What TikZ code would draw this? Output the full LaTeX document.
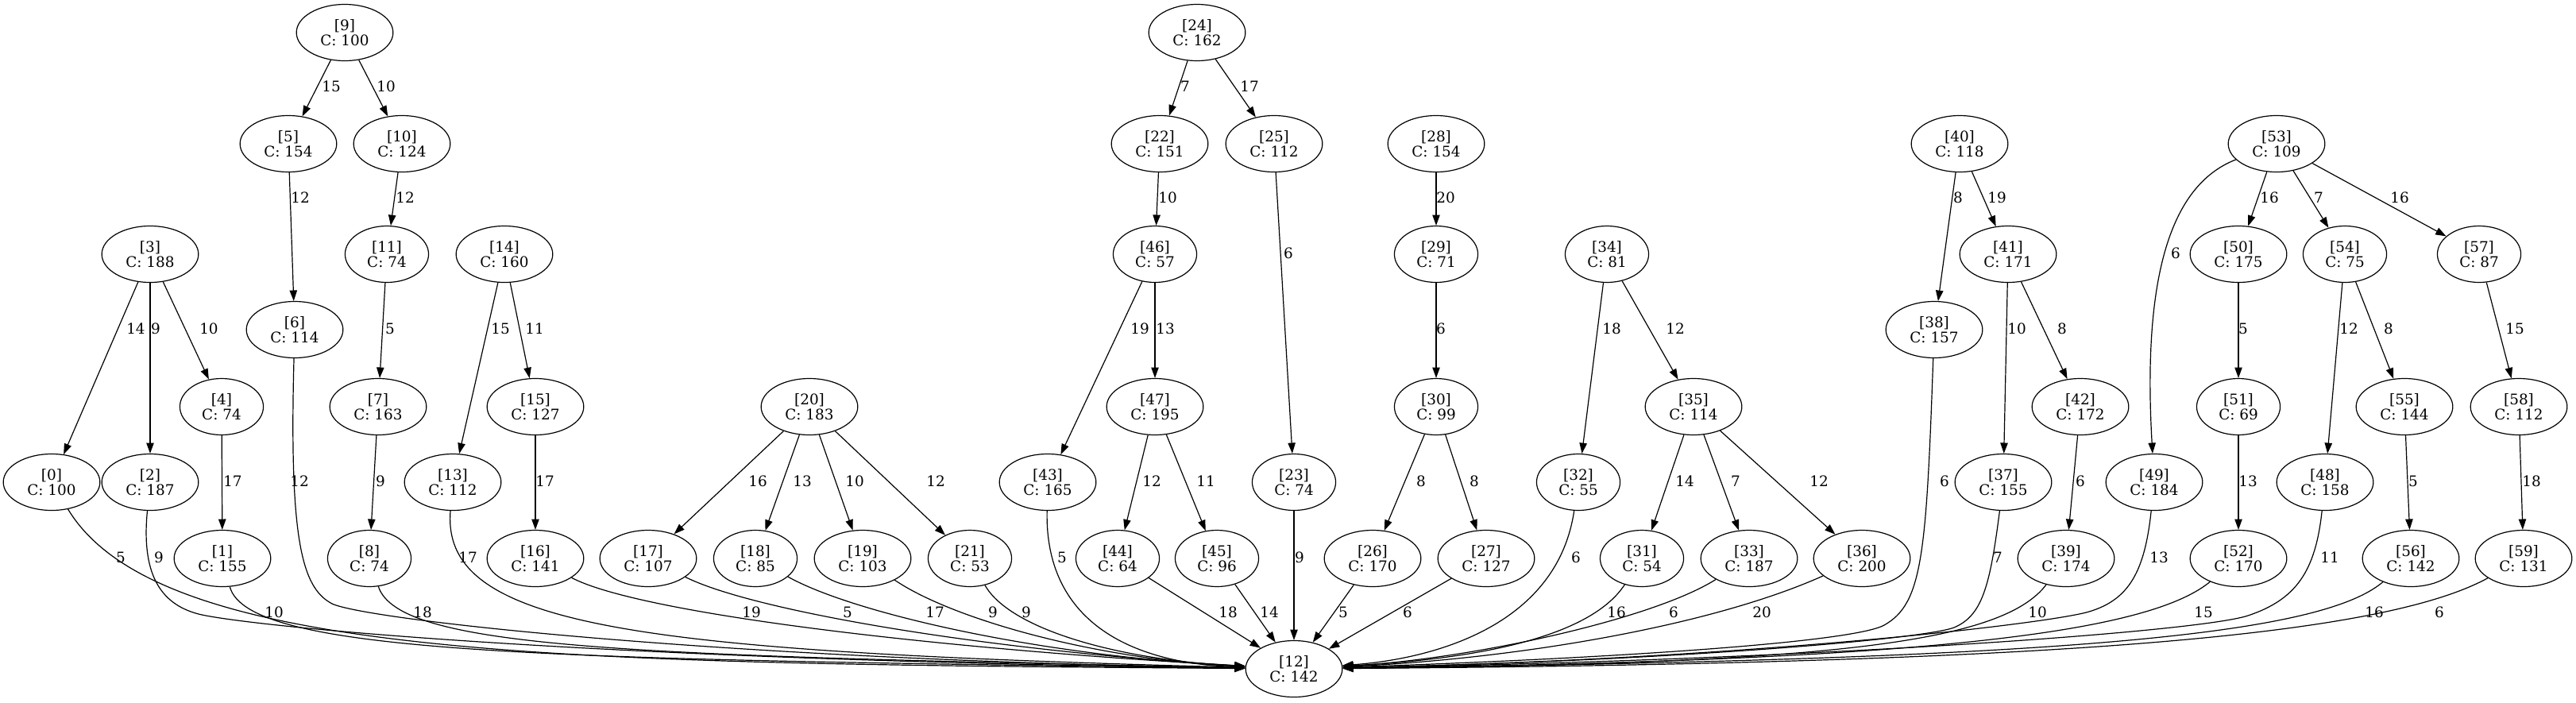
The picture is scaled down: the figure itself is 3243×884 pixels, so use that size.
\documentclass[tikz,border=0pt]{standalone}
\usepackage{fontspec}
\setmainfont{DejaVu Serif}
\usetikzlibrary{shapes.geometric,arrows.meta}

\tikzset{every picture/.style={line width=0.6pt}}
\tikzset{
  vertex/.style={draw, ellipse, align=center, inner xsep=6.2pt, inner ysep=1pt, minimum height=35.5pt, font=\fontsize{9.2}{9.5}\selectfont},
  link/.style={-{Triangle[length=6.7pt,width=4.7pt]}},
  lbl/.style={inner sep=0.5pt, font=\fontsize{9.2}{9.5}\selectfont}
}

\begin{document}
\begin{tikzpicture}[x=0.5pt,y=0.5pt,yscale=-1,xscale=1]
\useasboundingbox (0,0) rectangle (3243,884);

% Nodes
\node[vertex] (n9) at (434,41) {[9]\\C: 100};
\node[vertex] (n24) at (1507,41) {[24]\\C: 162};
\node[vertex] (n5) at (363,181) {[5]\\C: 154};
\node[vertex] (n10) at (506,181) {[10]\\C: 124};
\node[vertex] (n22) at (1460,181) {[22]\\C: 151};
\node[vertex] (n25) at (1604,181) {[25]\\C: 112};
\node[vertex] (n28) at (1808,181) {[28]\\C: 154};
\node[vertex] (n40) at (2467,181) {[40]\\C: 118};
\node[vertex] (n53) at (2866,181) {[53]\\C: 109};
\node[vertex] (n3) at (189,320) {[3]\\C: 188};
\node[vertex] (n11) at (487,320) {[11]\\C: 74};
\node[vertex] (n14) at (635,320) {[14]\\C: 160};
\node[vertex] (n46) at (1454,320) {[46]\\C: 57};
\node[vertex] (n29) at (1808,320) {[29]\\C: 71};
\node[vertex] (n34) at (2023,320) {[34]\\C: 81};
\node[vertex] (n41) at (2528,320) {[41]\\C: 171};
\node[vertex] (n50) at (2818,320) {[50]\\C: 175};
\node[vertex] (n54) at (2952,320) {[54]\\C: 75};
\node[vertex] (n57) at (3121,320) {[57]\\C: 87};
\node[vertex] (n6) at (371,415) {[6]\\C: 114};
\node[vertex] (n38) at (2435,415) {[38]\\C: 157};
\node[vertex] (n4) at (279,512) {[4]\\C: 74};
\node[vertex] (n7) at (476,512) {[7]\\C: 163};
\node[vertex] (n15) at (674,512) {[15]\\C: 127};
\node[vertex] (n20) at (1019,512) {[20]\\C: 183};
\node[vertex] (n47) at (1454,512) {[47]\\C: 195};
\node[vertex] (n30) at (1808,512) {[30]\\C: 99};
\node[vertex] (n35) at (2132,512) {[35]\\C: 114};
\node[vertex] (n42) at (2619,512) {[42]\\C: 172};
\node[vertex] (n51) at (2818,512) {[51]\\C: 69};
\node[vertex] (n55) at (3027,512) {[55]\\C: 144};
\node[vertex] (n58) at (3171,512) {[58]\\C: 112};
\node[vertex] (n0) at (65,607) {[0]\\C: 100};
\node[vertex] (n2) at (189,607) {[2]\\C: 187};
\node[vertex] (n13) at (570,607) {[13]\\C: 112};
\node[vertex] (n43) at (1319,607) {[43]\\C: 165};
\node[vertex] (n23) at (1629,607) {[23]\\C: 74};
\node[vertex] (n32) at (1987,607) {[32]\\C: 55};
\node[vertex] (n37) at (2522,607) {[37]\\C: 155};
\node[vertex] (n49) at (2712,607) {[49]\\C: 184};
\node[vertex] (n48) at (2927,607) {[48]\\C: 158};
\node[vertex] (n1) at (280,703) {[1]\\C: 155};
\node[vertex] (n8) at (465,703) {[8]\\C: 74};
\node[vertex] (n16) at (674,703) {[16]\\C: 141};
\node[vertex] (n17) at (816,703) {[17]\\C: 107};
\node[vertex] (n18) at (951,703) {[18]\\C: 85};
\node[vertex] (n19) at (1086,703) {[19]\\C: 103};
\node[vertex] (n21) at (1221,703) {[21]\\C: 53};
\node[vertex] (n44) at (1407,703) {[44]\\C: 64};
\node[vertex] (n45) at (1532,703) {[45]\\C: 96};
\node[vertex] (n26) at (1728,703) {[26]\\C: 170};
\node[vertex] (n27) at (1871,703) {[27]\\C: 127};
\node[vertex] (n31) at (2067,703) {[31]\\C: 54};
\node[vertex] (n33) at (2202,703) {[33]\\C: 187};
\node[vertex] (n36) at (2344,703) {[36]\\C: 200};
\node[vertex] (n39) at (2601,703) {[39]\\C: 174};
\node[vertex] (n52) at (2818,703) {[52]\\C: 170};
\node[vertex] (n56) at (3035,703) {[56]\\C: 142};
\node[vertex] (n59) at (3177,703) {[59]\\C: 131};
\node[vertex] (n12) at (1629,842) {[12]\\C: 142};

%Straight Lines
\draw[link] (n9) -- (n5); \node[lbl] (e9-5) at (417,109) {15};
\draw[link] (n9) -- (n10); \node[lbl] (e9-10) at (486,109) {10};
\draw[link] (n5) -- (n6); \node[lbl] (e5-6) at (378,249) {12};
\draw[link] (n10) -- (n11); \node[lbl] (e10-11) at (510,249) {12};
\draw[link] (n11) -- (n7); \node[lbl] (e11-7) at (491,414) {5};
\draw[link] (n7) -- (n8); \node[lbl] (e7-8) at (479,606) {9};
\draw[link] (n3) -- (n0); \node[lbl] (e3-0) at (171,414) {14};
\draw[link] (n3) -- (n2); \node[lbl] (e3-2) at (196,414) {9};
\draw[link] (n3) -- (n4); \node[lbl] (e3-4) at (263,414) {10};
\draw[link] (n4) -- (n1); \node[lbl] (e4-1) at (293,606) {17};
\draw[link] (n14) -- (n13); \node[lbl] (e14-13) at (630,414) {15};
\draw[link] (n14) -- (n15); \node[lbl] (e14-15) at (673,414) {11};
\draw[link] (n15) -- (n16); \node[lbl] (e15-16) at (686,606) {17};
\draw[link] (n20) -- (n17); \node[lbl] (e20-17) at (954,606) {16};
\draw[link] (n20) -- (n18); \node[lbl] (e20-18) at (1010,606) {13};
\draw[link] (n20) -- (n19); \node[lbl] (e20-19) at (1076,606) {10};
\draw[link] (n20) -- (n21); \node[lbl] (e20-21) at (1178,606) {12};
\draw[link] (n24) -- (n22); \node[lbl] (e24-22) at (1492,109) {7};
\draw[link] (n24) -- (n25); \node[lbl] (e24-25) at (1573,109) {17};
\draw[link] (n22) -- (n46); \node[lbl] (e22-46) at (1470,249) {10};
\draw[link] (n46) -- (n43); \node[lbl] (e46-43) at (1435,414) {19};
\draw[link] (n46) -- (n47); \node[lbl] (e46-47) at (1467,414) {13};
\draw[link] (n47) -- (n44); \node[lbl] (e47-44) at (1450,606) {12};
\draw[link] (n47) -- (n45); \node[lbl] (e47-45) at (1518,606) {11};
\draw[link] (n25) -- (n23); \node[lbl] (e25-23) at (1622,319) {6};
\draw[link] (n28) -- (n29); \node[lbl] (e28-29) at (1820,249) {20};
\draw[link] (n29) -- (n30); \node[lbl] (e29-30) at (1814,414) {6};
\draw[link] (n30) -- (n26); \node[lbl] (e30-26) at (1789,606) {8};
\draw[link] (n30) -- (n27); \node[lbl] (e30-27) at (1856,606) {8};
\draw[link] (n34) -- (n32); \node[lbl] (e34-32) at (2029,414) {18};
\draw[link] (n34) -- (n35); \node[lbl] (e34-35) at (2109,414) {12};
\draw[link] (n35) -- (n31); \node[lbl] (e35-31) at (2121,606) {14};
\draw[link] (n35) -- (n33); \node[lbl] (e35-33) at (2185,606) {7};
\draw[link] (n35) -- (n36); \node[lbl] (e35-36) at (2290,606) {12};
\draw[link] (n40) -- (n38); \node[lbl] (e40-38) at (2465,249) {8};
\draw[link] (n40) -- (n41); \node[lbl] (e40-41) at (2514,249) {19};
\draw[link] (n41) -- (n37); \node[lbl] (e41-37) at (2539,414) {10};
\draw[link] (n41) -- (n42); \node[lbl] (e41-42) at (2596,414) {8};
\draw[link] (n42) -- (n39); \node[lbl] (e42-39) at (2619,606) {6};
\draw[link] (n53) .. controls (2740,230) and (2696,330) .. (n49); \node[lbl] (e53-49) at (2739,319) {6};
\draw[link] (n53) -- (n50); \node[lbl] (e53-50) at (2857,249) {16};
\draw[link] (n53) -- (n54); \node[lbl] (e53-54) at (2919,249) {7};
\draw[link] (n53) -- (n57); \node[lbl] (e53-57) at (3021,249) {16};
\draw[link] (n50) -- (n51); \node[lbl] (e50-51) at (2824,414) {5};
\draw[link] (n51) -- (n52); \node[lbl] (e51-52) at (2830,606) {13};
\draw[link] (n54) -- (n48); \node[lbl] (e54-48) at (2957,414) {12};
\draw[link] (n54) -- (n55); \node[lbl] (e54-55) at (3007,414) {8};
\draw[link] (n55) -- (n56); \node[lbl] (e55-56) at (3038,606) {5};
\draw[link] (n57) -- (n58); \node[lbl] (e57-58) at (3166,414) {15};
\draw[link] (n58) -- (n59); \node[lbl] (e58-59) at (3187,606) {18};
\draw[link] (n44) -- (n12); \node[lbl] (e44-12) at (1546,771) {18};
\draw[link] (n45) -- (n12); \node[lbl] (e45-12) at (1598,771) {14};
\draw[link] (n23) -- (n12); \node[lbl] (e23-12) at (1636,702) {9};
\draw[link] (n26) -- (n12); \node[lbl] (e26-12) at (1691,771) {5};
\draw[link] (n27) -- (n12); \node[lbl] (e27-12) at (1772,771) {6};

%Curve Lines
\draw[link] (n0) .. controls (200,830) and (700,835) .. (n12); \node[lbl] (e0-12) at (152,702) {5};
\draw[link] (n2) .. controls (178,720) and (200,760) .. (250,773) .. controls (300,786) and (700,830) .. (n12); \node[lbl] (e2-12) at (200,702) {9};
\draw[link] (n1) .. controls (312,825) and (700,830) .. (n12); \node[lbl] (e1-12) at (345,771) {10};
\draw[link] (n6) .. controls (364,680) and (380,740) .. (418,760) .. controls (460,780) and (900,830) .. (n12); \node[lbl] (e6-12) at (377,606) {12};
\draw[link] (n8) .. controls (502,818) and (800,825) .. (n12); \node[lbl] (e8-12) at (532,771) {18};
\draw[link] (n13) .. controls (555,790) and (800,820) .. (n12); \node[lbl] (e13-12) at (589,702) {17};
\draw[link] (n16) .. controls (800,770) and (1150,815) .. (n12); \node[lbl] (e16-12) at (946,771) {19};
\draw[link] (n17) .. controls (950,770) and (1250,820) .. (n12); \node[lbl] (e17-12) at (1067,771) {5};
\draw[link] (n18) .. controls (1070,770) and (1300,825) .. (n12); \node[lbl] (e18-12) at (1177,771) {17};
\draw[link] (n19) .. controls (1200,780) and (1380,830) .. (n12); \node[lbl] (e19-12) at (1250,771) {9};
\draw[link] (n21) .. controls (1270,790) and (1400,830) .. (n12); \node[lbl] (e21-12) at (1292,771) {9};
\draw[link] (n43) .. controls (1315,780) and (1420,835) .. (n12); \node[lbl] (e43-12) at (1337,702) {5};
\draw[link] (n32) .. controls (1960,790) and (1800,830) .. (n12); \node[lbl] (e32-12) at (1984,702) {6};
\draw[link] (n31) .. controls (2000,805) and (1850,830) .. (n12); \node[lbl] (e31-12) at (2035,771) {16};
\draw[link] (n33) .. controls (2080,780) and (1850,830) .. (n12); \node[lbl] (e33-12) at (2107,771) {6};
\draw[link] (n36) .. controls (2150,790) and (1900,830) .. (n12); \node[lbl] (e36-12) at (2218,771) {20};
\draw[link] (n38) .. controls (2425,700) and (2420,760) .. (2372,787) .. controls (2330,810) and (2000,830) .. (n12); \node[lbl] (e38-12) at (2448,606) {6};
\draw[link] (n37) .. controls (2505,740) and (2495,775) .. (2460,790) .. controls (2420,805) and (2100,832) .. (n12); \node[lbl] (e37-12) at (2515,702) {7};
\draw[link] (n39) .. controls (2520,810) and (2300,835) .. (n12); \node[lbl] (e39-12) at (2565,771) {10};
\draw[link] (n49) .. controls (2700,720) and (2680,755) .. (2630,770) .. controls (2580,785) and (2200,830) .. (n12); \node[lbl] (e49-12) at (2718,702) {13};
\draw[link] (n52) .. controls (2700,800) and (2400,832) .. (n12); \node[lbl] (e52-12) at (2774,771) {15};
\draw[link] (n48) .. controls (2915,720) and (2890,755) .. (2830,775) .. controls (2770,795) and (2300,830) .. (n12); \node[lbl] (e48-12) at (2933,702) {11};
\draw[link] (n56) .. controls (2920,800) and (2600,830) .. (n12); \node[lbl] (e56-12) at (2989,771) {16};
\draw[link] (n59) .. controls (3000,800) and (2600,835) .. (n12); \node[lbl] (e59-12) at (3071,771) {6};

\end{tikzpicture}
\end{document}
